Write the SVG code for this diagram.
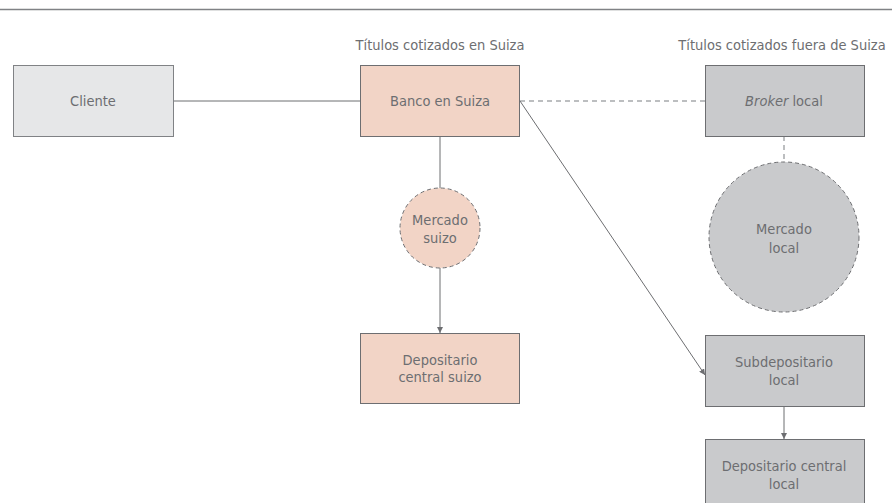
<svg xmlns="http://www.w3.org/2000/svg" width="892" height="503" viewBox="0 0 892 503">
<style>
  text { font-family: "DejaVu Sans Condensed", "Liberation Sans", Arial, sans-serif; font-size: 14.5px; fill: #6d6e71; text-anchor: middle; }
  .light { fill: #e6e7e8; stroke: #808285; stroke-width: 1; }
  .peach { fill: #f2d4c6; stroke: #6d6e71; stroke-width: 1; }
  .gray { fill: #c9cacc; stroke: #6d6e71; stroke-width: 1; }
  .dash { stroke-dasharray: 4 3; }
  .conn { stroke: #6d6e71; stroke-width: 1; fill: none; }
  .dconn { stroke: #a7a9ac; stroke-width: 1.5; fill: none; stroke-dasharray: 5 4; }
</style>
<defs>
  <marker id="arr" viewBox="0 0 6 6" refX="6" refY="3" markerWidth="6" markerHeight="6" orient="auto" markerUnits="userSpaceOnUse">
    <path d="M0,0 L6,3 L0,6 z" fill="#6d6e71"/>
  </marker>
</defs>
<rect width="892" height="503" fill="#ffffff"/>
<line x1="0" y1="9.5" x2="892" y2="9.5" stroke="#808285" stroke-width="1.5"/>

<text x="440" y="50">Títulos cotizados en Suiza</text>
<text x="782" y="50">Títulos cotizados fuera de Suiza</text>

<g id="connectors">
  <line class="conn" x1="173" y1="101" x2="360" y2="101"/>
  <line class="dconn" x1="520" y1="101" x2="705" y2="101"/>
  <line class="conn" x1="440" y1="136" x2="440" y2="188"/>
  <line class="conn" x1="440" y1="268" x2="440" y2="333" marker-end="url(#arr)"/>
  <line class="dconn" x1="784" y1="136" x2="784" y2="162"/>
  <line class="conn" x1="520" y1="101" x2="705" y2="375" marker-end="url(#arr)"/>
  <line class="conn" x1="784" y1="407" x2="784" y2="439" marker-end="url(#arr)"/>
</g>

<g id="cliente">
  <rect class="light" x="13.5" y="65.5" width="160" height="71"/>
  <text x="93" y="106">Cliente</text>
</g>
<g id="banco">
  <rect class="peach" x="360.5" y="65.5" width="159" height="71"/>
  <text x="440" y="106">Banco en Suiza</text>
</g>
<g id="broker">
  <rect class="gray" x="705.5" y="65.5" width="159" height="71"/>
  <text x="784" y="106"><tspan font-style="italic">Broker</tspan> local</text>
</g>
<g id="mercado-suizo">
  <circle class="peach dash" cx="440" cy="228" r="40"/>
  <text x="440" y="225">Mercado</text>
  <text x="440" y="243">suizo</text>
</g>
<g id="depositario-suizo">
  <rect class="peach" x="360.5" y="333.5" width="159" height="70"/>
  <text x="440" y="365">Depositario</text>
  <text x="440" y="382">central suizo</text>
</g>
<g id="mercado-local">
  <circle class="gray dash" cx="784" cy="237" r="75"/>
  <text x="784" y="234">Mercado</text>
  <text x="784" y="253">local</text>
</g>
<g id="subdepositario">
  <rect class="gray" x="705.5" y="335.5" width="159" height="71"/>
  <text x="784" y="367">Subdepositario</text>
  <text x="784" y="385">local</text>
</g>
<g id="depositario-local">
  <rect class="gray" x="705.5" y="439.5" width="159" height="70"/>
  <text x="784" y="471">Depositario central</text>
  <text x="784" y="489">local</text>
</g>
</svg>
